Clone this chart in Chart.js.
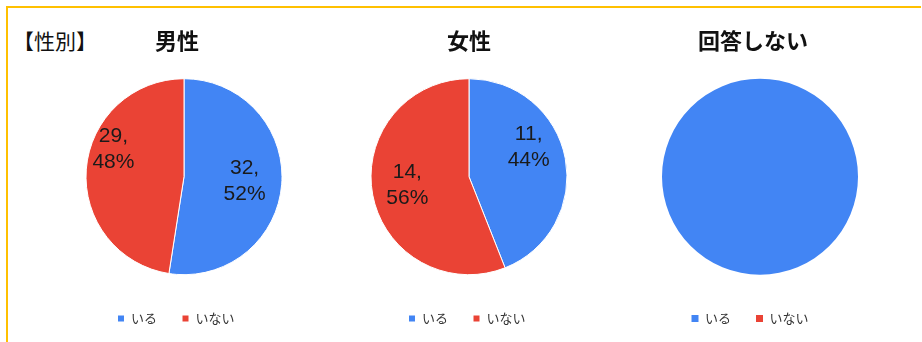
<!DOCTYPE html>
<html lang="ja">
<head>
<meta charset="utf-8">
<script src="https://cdn.jsdelivr.net/npm/chart.js@4/dist/chart.umd.min.js"></script>
<style>
  html, body { margin: 0; padding: 0; background: #fff; }
  body { width: 922px; height: 342px; position: relative; overflow: hidden; font-family: "Noto Sans CJK JP", sans-serif; }
  .frame { position: absolute; left: 6px; top: 6px; width: 915px; height: 336px; box-sizing: border-box; border-top: 2px solid #FFC000; border-left: 2px solid #FFC000; }
  .heading { position: absolute; left: 13px; top: 26px; font-size: 21px; line-height: 28px; color: #111; }
  .box { position: absolute; top: 0; width: 280px; height: 342px; }
</style>
</head>
<body>
<div class="frame"></div>
<div class="heading">【性別】</div>
<div class="box" style="left:44px"><canvas id="maleChart"></canvas></div>
<div class="box" style="left:329px"><canvas id="femaleChart"></canvas></div>
<div class="box" style="left:620px"><canvas id="noAnswerChart"></canvas></div>
<script>
const categories = ["いる", "いない"];
const chartTitles = ["男性", "女性", "回答しない"];
const maleValues = [32, 29];
const femaleValues = [11, 14];
const noAnswerValues = [1, 0];

const sliceColors = ["#4285F4", "#EA4335"];

// draws "count,\npercent%" inside each slice
const sliceLabels = {
  id: "sliceLabels",
  afterDatasetsDraw(chart, args, opts) {
    if (!opts.display) return;
    const ctx = chart.ctx;
    const meta = chart.getDatasetMeta(0);
    const values = chart.data.datasets[0].data;
    const total = values.reduce((a, b) => a + b, 0);
    const nudges = opts.nudges || [];
    ctx.save();
    ctx.font = "21px 'Liberation Sans', Arial, sans-serif";
    ctx.fillStyle = "#1a1a1a";
    ctx.textAlign = "center";
    ctx.textBaseline = "middle";
    meta.data.forEach((arc, i) => {
      if (!values[i]) return;
      const p = arc.getProps(["x", "y", "startAngle", "endAngle", "outerRadius"], true);
      const mid = (p.startAngle + p.endAngle) / 2;
      const d = p.outerRadius * 0.62;
      const n = nudges[i] || [0, 0];
      const x = p.x + Math.cos(mid) * d + n[0];
      const y = p.y + Math.sin(mid) * d + n[1];
      const pct = Math.round(values[i] / total * 100);
      ctx.fillText(values[i] + ",", x, y - 13);
      ctx.fillText(pct + "%", x, y + 13);
    });
    ctx.restore();
  }
};

// small horizontal nudge of title and legend boxes after layout
const boxShift = {
  id: "boxShift",
  afterLayout(chart, args, opts) {
    if (chart.titleBlock && opts.titleDx) {
      chart.titleBlock.left += opts.titleDx;
      chart.titleBlock.right += opts.titleDx;
    }
    if (chart.legend && opts.legendDx) {
      chart.legend.left += opts.legendDx;
      chart.legend.right += opts.legendDx;
    }
  }
};

function makePie(canvasId, title, values, labelOpts, shift, borderWidth) {
  const ctx = document.getElementById(canvasId)?.getContext("2d");
  return new Chart(ctx, {
    type: "pie",
    data: {
      labels: categories,
      datasets: [{ data: values, backgroundColor: sliceColors, borderColor: "#fff", borderWidth: borderWidth, radius: 98 }]
    },
    options: {
      responsive: true,
      maintainAspectRatio: false,
      animation: false,
      layout: { padding: { bottom: 7 } },
      plugins: {
        title: {
          display: true,
          text: title,
          color: "#111",
          font: { family: "'Noto Sans CJK JP', sans-serif", size: 22, weight: "bold", lineHeight: 1.2 },
          padding: { top: 27, bottom: 13 }
        },
        legend: {
          position: "bottom",
          labels: {
            boxWidth: 7,
            boxHeight: 7,
            padding: 25,
            color: "#333",
            font: { family: "'Noto Sans CJK JP', sans-serif", size: 13 }
          }
        },
        tooltip: { enabled: false },
        sliceLabels: labelOpts,
        boxShift: shift
      }
    },
    plugins: [sliceLabels, boxShift]
  });
}

makePie("maleChart", chartTitles[0], maleValues,
  { display: true, nudges: [[0, 0], [-10, -23]] }, { titleDx: -7, legendDx: -8 }, 1);
makePie("femaleChart", chartTitles[1], femaleValues,
  { display: true, nudges: [[0, -18], [-2, -3]] }, { titleDx: 0, legendDx: -2 }, 1);
makePie("noAnswerChart", chartTitles[2], noAnswerValues,
  { display: false }, { titleDx: -7, legendDx: -10 }, 0);
</script>
</body>
</html>
